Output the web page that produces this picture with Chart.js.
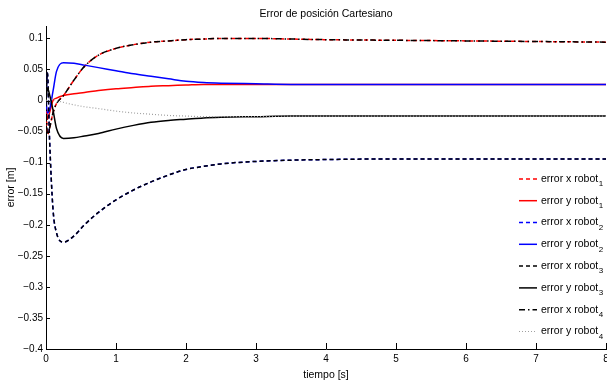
<!DOCTYPE html>
<html>
<head>
<meta charset="utf-8">
<script src="https://cdn.jsdelivr.net/npm/chart.js@4"></script>
<style>
  html, body { margin: 0; padding: 0; background: #fff; }
  #wrap { width: 607px; height: 385px; }
</style>
</head>
<body>
<div id="wrap"><canvas id="grafico"></canvas></div>
<script>
// tiempos de muestreo [s]
const tiempo = [0, 0.02, 0.05, 0.1, 0.15, 0.25, 0.4, 0.55, 0.75, 1, 1.25, 1.5, 1.75, 2, 2.25, 2.5, 3, 3.5, 4, 5, 6, 7, 8];

// errores [m]
const errXRobot1 = [0, -0.055, -0.045, -0.02, -0.005, 0.008, 0.033, 0.055, 0.073, 0.084, 0.09, 0.094, 0.096, 0.098, 0.099, 0.1, 0.1, 0.099, 0.098, 0.097, 0.096, 0.095, 0.094];
const errYRobot1 = [0, -0.03, -0.02, 0, 0.004, 0.008, 0.011, 0.013, 0.016, 0.019, 0.021, 0.023, 0.024, 0.025, 0.026, 0.026, 0.026, 0.026, 0.026, 0.026, 0.026, 0.026, 0.026];
const errXRobot2 = [0, 0.045, -0.06, -0.175, -0.213, -0.228, -0.218, -0.2, -0.18, -0.16, -0.144, -0.131, -0.12, -0.111, -0.106, -0.102, -0.098, -0.096, -0.095, -0.094, -0.094, -0.094, -0.094];
const errYRobot2 = [0, -0.02, -0.015, 0.015, 0.047, 0.061, 0.06, 0.057, 0.053, 0.048, 0.043, 0.039, 0.035, 0.031, 0.029, 0.028, 0.027, 0.026, 0.026, 0.026, 0.026, 0.026, 0.026];
const errXRobot3 = [0, 0.045, -0.06, -0.175, -0.213, -0.228, -0.218, -0.2, -0.18, -0.16, -0.144, -0.131, -0.12, -0.111, -0.106, -0.102, -0.098, -0.096, -0.095, -0.094, -0.094, -0.094, -0.094];
const errYRobot3 = [0, 0.02, 0.01, -0.015, -0.045, -0.061, -0.06, -0.057, -0.053, -0.046, -0.04, -0.035, -0.032, -0.03, -0.028, -0.027, -0.026, -0.025, -0.025, -0.025, -0.025, -0.025, -0.025];
const errXRobot4 = [0, -0.055, -0.045, -0.02, -0.005, 0.008, 0.033, 0.055, 0.073, 0.084, 0.09, 0.094, 0.096, 0.098, 0.099, 0.1, 0.1, 0.099, 0.098, 0.097, 0.096, 0.095, 0.094];
const errYRobot4 = [0, 0.002, 0.003, 0.002, 0, -0.003, -0.007, -0.01, -0.013, -0.017, -0.02, -0.022, -0.024, -0.025, -0.026, -0.026, -0.026, -0.025, -0.025, -0.025, -0.025, -0.025, -0.025];

// etiquetas
const nombres = ['error x robot', 'error y robot', 'error x robot', 'error y robot', 'error x robot', 'error y robot', 'error x robot', 'error y robot'];
const subindices = ['1', '1', '2', '2', '3', '3', '4', '4'];
const ticksX = [0, 1, 2, 3, 4, 5, 6, 7, 8];
const ticksY = [-0.4, -0.35, -0.3, -0.25, -0.2, -0.15, -0.1, -0.05, 0, 0.05, 0.1];

const FUENTE = "'Liberation Sans', Arial, sans-serif";

const serie = (valores) => tiempo.map((t, i) => ({ x: t, y: valores[i] }));

const estilos = [
    { color: '#ff0000', dash: [4, 3] },        // x robot1
    { color: '#ff0000', dash: [] },            // y robot1
    { color: '#0000ff', dash: [4, 3] },        // x robot2
    { color: '#0000ff', dash: [] },            // y robot2
    { color: '#000000', dash: [4, 3] },        // x robot3
    { color: '#000000', dash: [] },            // y robot3
    { color: '#000000', dash: [6, 3, 1.5, 3] },// x robot4
    { color: '#a0a0a0', dash: [1, 2] }         // y robot4
];
const valores = [errXRobot1, errYRobot1, errXRobot2, errYRobot2, errXRobot3, errYRobot3, errXRobot4, errYRobot4];

const datasets = valores.map((v, i) => ({
    label: nombres[i] + subindices[i],
    data: serie(v),
    borderColor: estilos[i].color,
    backgroundColor: estilos[i].color,
    borderDash: estilos[i].dash,
    borderWidth: i === 7 ? 1.2 : 1.5,
    pointRadius: 0,
    fill: false,
    cubicInterpolationMode: 'monotone',
    order: 8 - i // los ultimos quedan encima, como en matlab
}));

const fmt = (v) => {
    const s = String(Math.abs(Math.round(v * 100) / 100));
    return v < 0 ? '\u2212' + s : s;
};

// marcas de los ejes hacia adentro
const marcasInternas = {
    id: 'marcasInternas',
    afterDatasetsDraw(chart) {
        const { ctx, chartArea, scales } = chart;
        ctx.save();
        ctx.strokeStyle = '#000';
        ctx.lineWidth = 1;
        ctx.beginPath();
        ticksX.forEach(v => {
            const px = Math.round(scales.x.getPixelForValue(v)) + 0.5;
            ctx.moveTo(px, chartArea.bottom);
            ctx.lineTo(px, chartArea.bottom - 6);
        });
        ticksY.forEach(v => {
            const py = Math.round(scales.y.getPixelForValue(v)) + 0.5;
            ctx.moveTo(chartArea.left, py);
            ctx.lineTo(chartArea.left + 4, py);
        });
        ctx.stroke();
        ctx.restore();
    }
};

// leyenda dentro del grafico, abajo a la derecha, con subindices
const leyenda = {
    id: 'leyenda',
    afterDraw(chart) {
        const { ctx, chartArea } = chart;
        const paso = 21.8;
        const y0 = chartArea.bottom - 17.5 - paso * 7;
        const xLinea = chartArea.right - 87;
        const xTexto = chartArea.right - 65;
        ctx.save();
        chart.data.datasets.forEach((ds, i) => {
            const y = y0 + paso * i;
            ctx.beginPath();
            ctx.strokeStyle = ds.borderColor;
            ctx.lineWidth = ds.borderWidth;
            ctx.setLineDash(ds.borderDash);
            ctx.moveTo(xLinea, y);
            ctx.lineTo(xLinea + 18, y);
            ctx.stroke();
            ctx.setLineDash([]);
            ctx.fillStyle = '#000';
            ctx.textBaseline = 'middle';
            ctx.font = '10.5px ' + FUENTE;
            ctx.fillText(nombres[i], xTexto, y);
            const w = ctx.measureText(nombres[i]).width;
            ctx.font = '8px ' + FUENTE;
            ctx.fillText(subindices[i], xTexto + w + 0.5, y + 5);
        });
        ctx.restore();
    }
};

const ctx = document.getElementById('grafico').getContext('2d');
window.miGrafico = new Chart(ctx, {
    type: 'line',
    data: { datasets: datasets },
    plugins: [marcasInternas, leyenda],
    options: {
        responsive: true,
        maintainAspectRatio: false,
        animation: false,
        layout: { padding: { left: 0, right: 1, top: 0, bottom: 0 } },
        plugins: {
            legend: { display: false },
            tooltip: { enabled: false },
            title: {
                display: true,
                fullSize: false, // centrado sobre el area del grafico
                text: 'Error de posición Cartesiano',
                color: '#000',
                font: { family: FUENTE, size: 10.5, weight: 'normal' },
                padding: { top: 7.7, bottom: 5.7 }
            }
        },
        scales: {
            x: {
                type: 'linear',
                min: 0,
                max: 8,
                grid: { display: false, drawTicks: false },
                border: { display: true, color: '#000', width: 1 },
                afterBuildTicks: (s) => { s.ticks = ticksX.map(v => ({ value: v })); },
                afterFit: (s) => { s.height = 36; s.paddingLeft = 0; s.paddingRight = 0; },
                ticks: {
                    color: '#000',
                    padding: 4.5,
                    maxRotation: 0,
                    autoSkip: false,
                    font: { family: FUENTE, size: 10 },
                    callback: (v) => fmt(v)
                },
                title: {
                    display: true,
                    text: 'tiempo [s]',
                    color: '#000',
                    font: { family: FUENTE, size: 10.5 },
                    padding: { top: 0, bottom: 3.5 }
                }
            },
            y: {
                type: 'linear',
                min: -0.4,
                max: 0.12,
                grid: { display: false, drawTicks: false },
                border: { display: true, color: '#000', width: 1 },
                afterBuildTicks: (s) => { s.ticks = ticksY.map(v => ({ value: v })); },
                afterFit: (s) => { s.width = 46; s.paddingTop = 0; s.paddingBottom = 0; },
                ticks: {
                    color: '#000',
                    padding: 3,
                    autoSkip: false,
                    font: { family: FUENTE, size: 10 },
                    callback: (v) => fmt(v)
                },
                title: {
                    display: true,
                    text: 'error [m]',
                    color: '#000',
                    font: { family: FUENTE, size: 10.5 },
                    padding: { top: 5, bottom: 0 }
                }
            }
        }
    }
});
</script>
</body>
</html>
